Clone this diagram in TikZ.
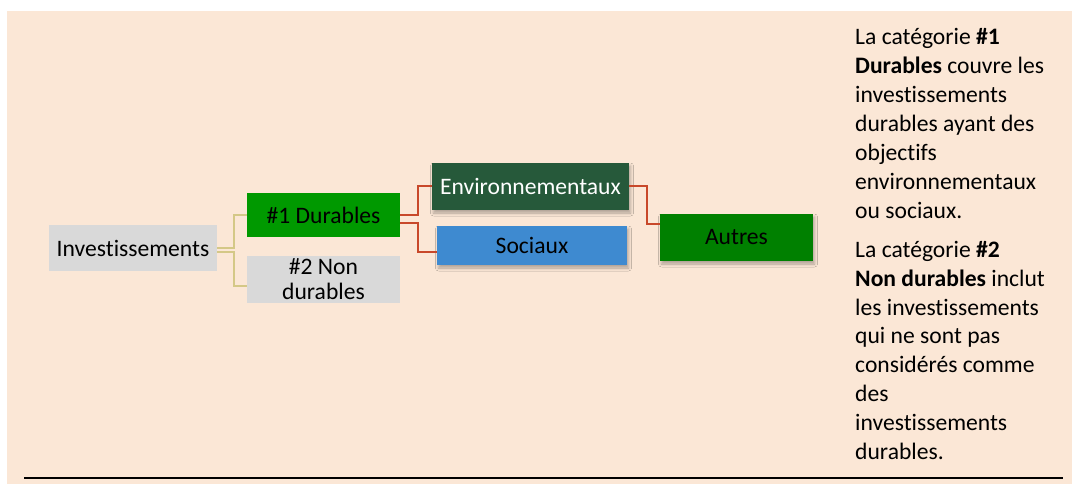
\documentclass[tikz,border=0pt]{standalone}
\usepackage{fontspec}
\setmainfont{Carlito}[RawFeature={-liga;-clig;-dlig;-calt}]
\usetikzlibrary{shadows.blur}
\definecolor{bgbeige}{RGB}{251,231,214}
\definecolor{boxgray}{RGB}{217,217,217}
\definecolor{durgreen}{RGB}{0,153,0}
\definecolor{envgreen}{RGB}{38,89,58}
\definecolor{socblue}{RGB}{62,138,208}
\definecolor{autgreen}{RGB}{0,128,0}
\definecolor{yline}{RGB}{212,200,135}
\definecolor{rline}{RGB}{200,72,42}
\tikzset{
  box/.style={inner sep=0pt, align=center, font=\fontsize{23.6}{25}\selectfont},
  shad/.style={blur shadow={shadow xshift=1.5pt, shadow yshift=-3pt, shadow blur radius=3pt, shadow opacity=30}},
  yconn/.style={draw=yline, line width=2pt},
  rconn/.style={draw=rline, line width=2pt},
}
\begin{document}
\begin{tikzpicture}[x=1pt,y=-1pt]
\useasboundingbox (0,0) rectangle (1072,484);
\fill[bgbeige] (7,11) rectangle (1072,484);
\draw[black, line width=1.3pt] (24,478) -- (1063,478);

\node[box, fill=boxgray, minimum width=168pt, minimum height=46pt] (inv) at (133,248) {Investissements};
\node[box, fill=durgreen, minimum width=153pt, minimum height=44pt] (d1) at (323.5,215) {\#1 Durables};
\node[box, fill=boxgray, minimum width=153pt, minimum height=47pt] (d2) at (323.5,279.5) {\#2 Non\\durables};
\node[box, shad, fill=envgreen, text=white, minimum width=197pt, minimum height=47pt] (env) at (530.5,186.5) {Environnementaux};
\node[box, shad, fill=socblue, minimum width=190pt, minimum height=39pt] (soc) at (532,245.5) {Sociaux};
\node[box, shad, fill=autgreen, minimum width=153pt, minimum height=47pt] (aut) at (736.5,237.5) {Autres};

\draw[yconn] (inv.east) -- ++(17pt,0) |- (d1.west);
\draw[yconn] ([yshift=-4pt]inv.east) -- ++(17pt,0) |- ([yshift=-6.5pt]d2.west);
\draw[rconn] (d1.east) -- ++(18pt,0) |- (env.west);
\draw[rconn] ([yshift=-8pt]d1.east) -- ++(18pt,0) |- ([yshift=-6.5pt]soc.west);
\draw[rconn] (env.east) -- ++(18pt,0) |- ([yshift=13.5pt]aut.west);

\node[inner sep=0pt, anchor=base west] (txt) at (855,45) {\fontsize{23.6}{28.9}\selectfont
\begin{tabular}[t]{@{}l@{}}
La catégorie \textbf{\#1}\\
\textbf{Durables} couvre les\\
investissements\\
durables ayant des\\
objectifs\\
environnementaux\\
ou sociaux.\\[10pt]
La catégorie \textbf{\#2}\\
\textbf{Non durables} inclut\\
les investissements\\
qui ne sont pas\\
considérés comme\\
des\\
investissements\\
durables.
\end{tabular}};
\end{tikzpicture}
\end{document}
